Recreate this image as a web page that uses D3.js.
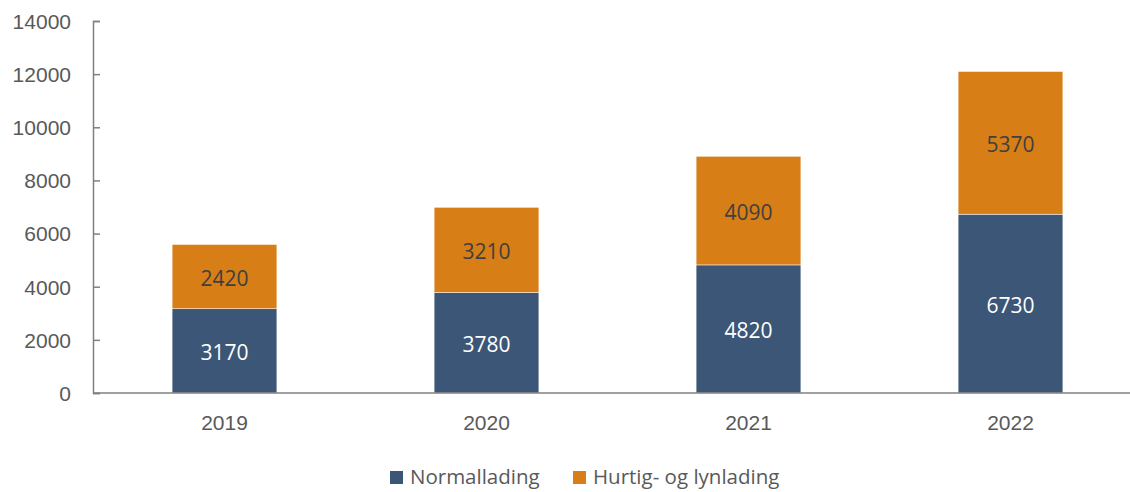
<!DOCTYPE html>
<html>
<head>
<meta charset="utf-8">
<script src="https://cdn.jsdelivr.net/npm/d3@7"></script>
<style>
  html, body { margin: 0; padding: 0; background: #fff; }
  svg { display: block; font-family: "Open Sans", "Noto Sans", sans-serif; }
</style>
</head>
<body>
<svg id="chart" width="1130" height="492"></svg>
<script>
// Charging points per year, split by charger type
const years = ["2019", "2020", "2021", "2022"];
const normal = [3170, 3780, 4820, 6730];
const fast = [2420, 3210, 4090, 5370];
const seriesNames = ["Normallading", "Hurtig- og lynlading"];
const yTicks = [0, 2000, 4000, 6000, 8000, 10000, 12000, 14000];

const colors = ["#3b5676", "#d77e17"];
const labelColors = ["#ffffff", "#404040"];
const axisColor = "#808080";
const textColor = "#595959";

const svg = d3.select("#chart");

const x = d3.scaleBand()
  .domain(years)
  .range([93.5, 1141.5])
  .paddingInner(0.6)
  .paddingOuter(0.3);

const y = d3.scaleLinear()
  .domain([0, 14000])
  .range([393, 21]);

// Stack the two series
const rows = years.map((yr, i) => ({ year: yr, [seriesNames[0]]: normal[i], [seriesNames[1]]: fast[i] }));
const stacked = d3.stack().keys(seriesNames)(rows);

// Y axis with inward ticks
const yAxis = svg.append("g")
  .attr("transform", "translate(93,0)")
  .call(d3.axisRight(y).tickValues(yTicks).tickSize(7).tickFormat(d3.format("d")));
yAxis.select(".domain").attr("stroke", axisColor).attr("stroke-width", 1.5);
yAxis.selectAll(".tick line").attr("stroke", axisColor).attr("stroke-width", 1.5);
yAxis.selectAll(".tick text")
  .attr("x", -22)
  .attr("text-anchor", "end")
  .attr("fill", textColor)
  .style("font-size", "21px")
  .attr("dy", "0.35em");

// Bars
stacked.forEach((layer, si) => {
  const g = svg.append("g");
  g.selectAll("rect")
    .data(layer)
    .join("rect")
    .attr("x", d => x(d.data.year))
    .attr("width", x.bandwidth())
    .attr("y", d => y(d[1]))
    .attr("height", d => y(d[0]) - y(d[1]))
    .attr("fill", colors[si])
    .attr("stroke", "#ffffff")
    .attr("stroke-width", 0.5);

  g.selectAll("text")
    .data(layer)
    .join("text")
    .attr("x", d => x(d.data.year) + x.bandwidth() / 2)
    .attr("y", d => (y(d[0]) + y(d[1])) / 2)
    .attr("dy", "0.44em")
    .attr("text-anchor", "middle")
    .attr("fill", labelColors[si])
    .style("font-size", "21px")
    .text(d => d[1] - d[0]);
});

// X axis baseline and year labels
const xAxis = svg.append("g")
  .attr("transform", "translate(0,393)")
  .call(d3.axisBottom(x).tickSize(0).tickPadding(22));
xAxis.select(".domain").remove();
svg.append("line")
  .attr("x1", 93).attr("x2", 1130)
  .attr("y1", 393).attr("y2", 393)
  .attr("stroke", axisColor).attr("stroke-width", 1.5);
xAxis.selectAll(".tick text")
  .attr("fill", textColor)
  .style("font-size", "21px");

// Legend
const legendItems = [
  { name: seriesNames[0], color: colors[0], x: 390 },
  { name: seriesNames[1], color: colors[1], x: 573 }
];
const legend = svg.append("g");
legendItems.forEach(item => {
  legend.append("rect")
    .attr("x", item.x).attr("y", 471)
    .attr("width", 13).attr("height", 13)
    .attr("fill", item.color);
  legend.append("text")
    .attr("x", item.x + 20).attr("y", 484)
    .attr("fill", textColor)
    .style("font-size", "20.5px")
    .text(item.name);
});
</script>
</body>
</html>
